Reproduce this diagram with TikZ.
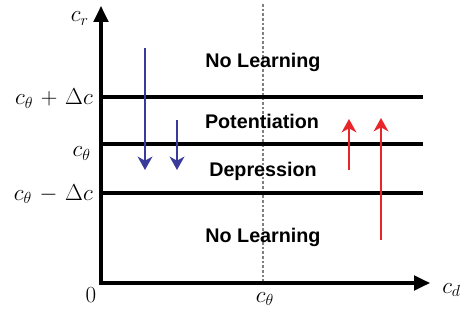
\documentclass[tikz,border=0pt]{standalone}
\usepackage{fontspec}
\setsansfont{Liberation Sans}
\usetikzlibrary{arrows.meta}
\definecolor{depblue}{RGB}{58,58,156}
\definecolor{potred}{RGB}{232,38,42}
\begin{document}
\begin{tikzpicture}[x=0.75pt, y=-0.75pt,
  axis/.style={line width=2.3pt, {Triangle[length=12pt,width=11pt]}-{Triangle[length=12pt,width=11pt]}},
  lvl/.style={line width=2.3pt},
  guide/.style={gray, line width=0.8pt, dash pattern=on 2pt off 1.5pt},
  zone/.style={font=\sffamily\bfseries\fontsize{14.8}{17}\selectfont},
  lab/.style={font=\fontsize{18.5}{22}\selectfont, inner sep=0pt},
  dep/.style={line width=2.2pt, depblue, -{Stealth[length=10pt,width=11pt,inset=3pt]}},
  pot/.style={dep, potred}
]
\useasboundingbox (0,0) rectangle (463,320);
% axes
\coordinate (o)    at (101,283);
\coordinate (ytop) at (101,6);
\coordinate (xend) at (430,283);
\draw[guide] (263,4) coordinate (gtop) -- (263,283) coordinate (gbot);
\draw[axis] (ytop) -- (o) -- (xend);
% threshold levels
\coordinate (hi0)  at (101,97);  \coordinate (hi1)  at (423,97);
\coordinate (mid0) at (101,144); \coordinate (mid1) at (423,144);
\coordinate (lo0)  at (101,193); \coordinate (lo1)  at (423,193);
\draw[lvl] (hi0) -- (hi1);
\draw[lvl] (mid0) -- (mid1);
\draw[lvl] (lo0) -- (lo1);
% axis labels
\node[lab, anchor=base east] (cr)   at (89,22)   {$c_r$};
\node[lab, anchor=base east] (lhi)  at (93,105)  {$c_\theta\mkern2mu+\mkern2mu\Delta c$};
\node[lab, anchor=base east] (lmid) at (91,157)  {$c_\theta$};
\node[lab, anchor=base east] (llo)  at (93,200)  {$c_\theta\mkern2mu-\mkern2mu\Delta c$};
\node[lab, anchor=base]      (zero) at (91,302)  {$0$};
\node[lab, anchor=base]      (cth)  at (265,302) {$c_\theta$};
\node[lab, anchor=base west] (cd)   at (442,293) {$c_d$};
% regions
\node[zone] (nl1) at (263,62)  {No Learning};
\node[zone] (pt)  at (262,121) {Potentiation};
\node[zone] (dp)  at (263,171) {Depression};
\node[zone] (nl2) at (263,237) {No Learning};
% weight changes
\coordinate (d1s) at (145,48);  \coordinate (d1e) at (145,170);
\coordinate (d2s) at (177,120); \coordinate (d2e) at (177,170);
\coordinate (p1s) at (349,170); \coordinate (p1e) at (349,119);
\coordinate (p2s) at (381,240); \coordinate (p2e) at (381,118);
\draw[dep] (d1s) -- (d1e);
\draw[dep] (d2s) -- (d2e);
\draw[pot] (p1s) -- (p1e);
\draw[pot] (p2s) -- (p2e);
\end{tikzpicture}
\end{document}
